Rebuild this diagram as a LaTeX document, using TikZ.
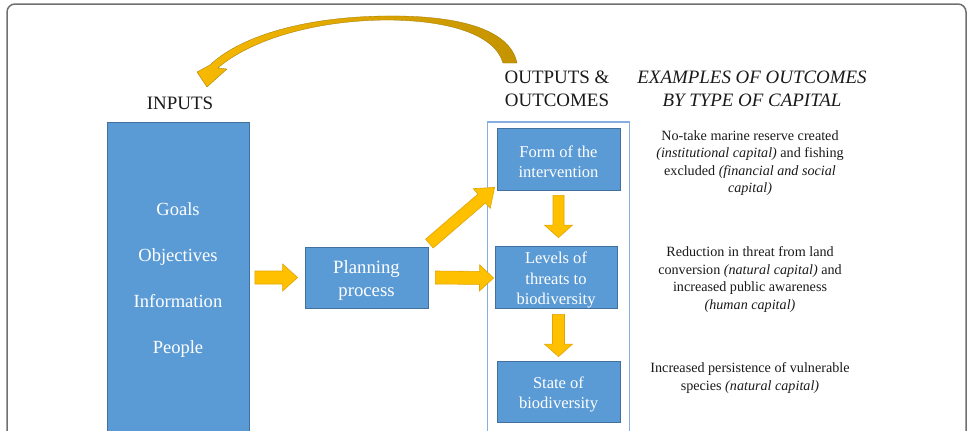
\documentclass[tikz,border=0pt]{standalone}
\usepackage{fontspec}
\setmainfont{LiberationSerif}[Extension=.ttf, UprightFont=*-Regular, ItalicFont=*-Italic, BoldFont=*-Bold, BoldItalicFont=*-BoldItalic]
\usetikzlibrary{calc}
\definecolor{boxblue}{HTML}{5B9BD5}
\definecolor{boxedge}{HTML}{41719C}
\definecolor{arrfill}{HTML}{FFC000}
\definecolor{arredge}{HTML}{E0A500}
\definecolor{framegray}{HTML}{707070}
\definecolor{outline}{HTML}{86AEE0}
\definecolor{txt}{HTML}{1A1A1A}
\definecolor{curvelight}{HTML}{F7B900}
\definecolor{curvedark}{HTML}{C49300}

\newcommand\blockarrow[5]{%
  \path (#1) coordinate (ba-s) (#2) coordinate (ba-e);
  \path ($(ba-e)!#5!(ba-s)$) coordinate (ba-h);
  \filldraw[barrow] ($(ba-s)!#3!90:(ba-e)$) -- ($(ba-h)!#3!90:(ba-e)$) -- ($(ba-h)!#4!90:(ba-e)$) -- (ba-e) -- ($(ba-h)!#4!-90:(ba-e)$) -- ($(ba-h)!#3!-90:(ba-e)$) -- ($(ba-s)!#3!-90:(ba-e)$) -- cycle;
}

\tikzset{
  bluebox/.style={draw=boxedge, fill=boxblue, line width=0.8bp, inner sep=0pt},
  boxtext/.style={text=white, align=center, inner sep=0pt},
  barrow/.style={fill=arrfill, draw=arredge, line width=0.6bp, line join=miter},
  hdr/.style={font=\fontsize{19}{23}\selectfont, align=center, text=txt},
  ex/.style={font=\fontsize{14.2}{17.5}\selectfont, align=center, text=txt},
}

\begin{document}
\begin{tikzpicture}[x=1bp, y=-1bp]
\clip (0,0) rectangle (969,430);
\fill[white] (0,0) rectangle (969,430);
\draw[framegray, line width=1.5bp, rounded corners=8bp] (7,4) rectangle (966,470);

% inputs column
\node[bluebox, minimum width=142bp, minimum height=340bp, anchor=north west] (inputs) at (107,122) {};
\node[boxtext, font=\fontsize{18.6}{46}\selectfont] (inputtext) at (178,280) {Goals\\Objectives\\Information\\People};

% planning
\node[bluebox, minimum width=123bp, minimum height=61bp] (planning) at (366.5,277.5) {};
\node[boxtext, font=\fontsize{18.8}{24}\selectfont] (planningtext) at ($(planning)+(0,3)$) {Planning\\process};

% outputs frame and boxes
\node[draw=outline, line width=1.6bp, minimum width=142bp, minimum height=340bp, anchor=north west, inner sep=0pt] (outputs) at (486.5,121) {};
\node[bluebox, minimum width=123bp, minimum height=62bp] (form) at (558.5,159) {};
\node[bluebox, minimum width=122bp, minimum height=62bp] (levels) at (556,277) {};
\node[bluebox, minimum width=123bp, minimum height=61bp] (state) at (558.5,391.5) {};
\node[boxtext, font=\fontsize{16.6}{20.5}\selectfont] (formtext) at ($(form)+(0,2.5)$) {Form of the\\intervention};
\node[boxtext, font=\fontsize{16.6}{20.5}\selectfont] (levelstext) at ($(levels)+(0,3)$) {Levels of\\threats to\\biodiversity};
\node[boxtext, font=\fontsize{16.6}{20.5}\selectfont] (statetext) at ($(state)+(0,3)$) {State of\\biodiversity};

% headers
\node[hdr] (inlabel) at (180,103) {INPUTS};
\node[hdr] (outlabel) at (557,88.5) {OUTPUTS \&\\OUTCOMES};
\node[hdr, font=\fontsize{19}{23}\selectfont\itshape] (exlabel) at (752,88.5) {EXAMPLES OF OUTCOMES\\BY TYPE OF CAPITAL};

% examples
\node[ex] (ex1) at (750,163) {No-take marine reserve created\\\textit{(institutional capital)} and fishing\\excluded \textit{(financial and social}\\\textit{capital)}};
\node[ex] (ex2) at (750,279.5) {Reduction in threat from land\\conversion \textit{(natural capital)} and\\increased public awareness\\\textit{(human capital)}};
\node[ex] (ex3) at (750,378) {Increased persistence of vulnerable\\species \textit{(natural capital)}};

% block arrows
\blockarrow{$(inputs.east |- planning.west)+(5,0)$}{$(planning.west)+(-7,0)$}{6.5bp}{13.5bp}{15bp}
\blockarrow{$(planning.east)+(7,0)$}{$(levels.west)+(-1,1)$}{6.5bp}{13bp}{14bp}
\blockarrow{$(planning.north east)+(1,-3)$}{$(form.south west)+(-2,-3)$}{5.8bp}{13bp}{17bp}
\blockarrow{$(form.south)+(0,5)$}{$(form.south |- levels.north)+(0,-8)$}{5.5bp}{14bp}{12.5bp}
\blockarrow{$(levels.south -| state.north)+(0,6)$}{$(state.north)+(0,-4)$}{6bp}{14bp}{12.5bp}

% curved feedback arrow
\coordinate (tailout) at (517,63);
\coordinate (tailin) at (503,63);
\shade[left color=curvelight, right color=curvedark, draw=curvedark!80!black, line width=0.3bp]
  (tailout) .. controls (510,28) and (455,15) .. (385,16)
  .. controls (300,17) and (238,38) .. (210,65)
  -- (197,72) -- (207,87) -- (227,69) -- (218,68)
  .. controls (245,44) and (305,21) .. (385,20)
  .. controls (450,20) and (495,35) .. (tailin) -- cycle;
\end{tikzpicture}
\end{document}
